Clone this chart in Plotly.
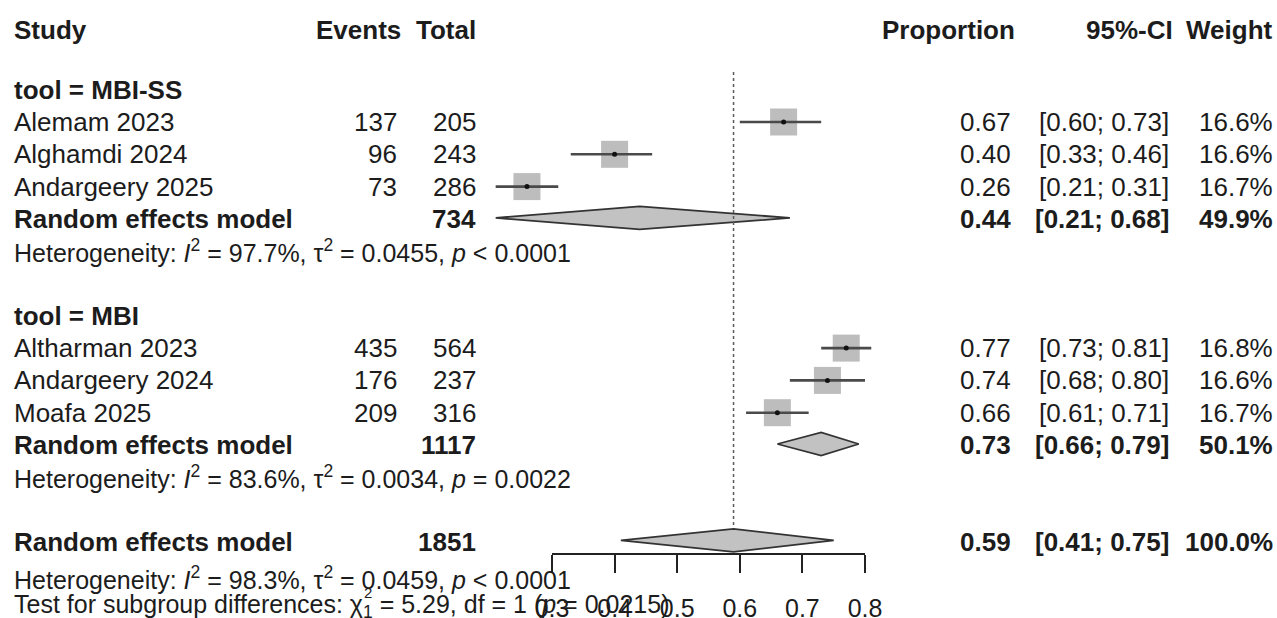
import plotly.graph_objects as go

# ---------------- data ----------------
groups = ["tool = MBI-SS", "tool = MBI"]
studies = [["Alemam 2023", "Alghamdi 2024", "Andargeery 2025"],
           ["Altharman 2023", "Andargeery 2024", "Moafa 2025"]]
events = [[137, 96, 73], [435, 176, 209]]
totals = [[205, 243, 286], [564, 237, 316]]
props = [[0.67, 0.40, 0.26], [0.77, 0.74, 0.66]]
ci_lo = [[0.60, 0.33, 0.21], [0.73, 0.68, 0.61]]
ci_hi = [[0.73, 0.46, 0.31], [0.81, 0.80, 0.71]]
weights = [["16.6%", "16.6%", "16.7%"], ["16.8%", "16.6%", "16.7%"]]

sub_total = [734, 1117]
sub_est = [0.44, 0.73]
sub_lo = [0.21, 0.66]
sub_hi = [0.68, 0.79]
sub_weight = ["49.9%", "50.1%"]
sub_het = [("97.7%", "0.0455", "&lt; 0.0001"), ("83.6%", "0.0034", "= 0.0022")]

all_total = 1851
all_est = 0.59
all_lo = 0.41
all_hi = 0.75
all_weight = "100.0%"
all_het = ("98.3%", "0.0459", "&lt; 0.0001")
test_chi2 = "5.29"
test_df = "1"
test_p = "0.0215"

tick_vals = [0.3, 0.4, 0.5, 0.6, 0.7, 0.8]
tick_text = ["0.3", "0.4", "0.5", "0.6", "0.7", "0.8"]

# ---------------- layout helpers ----------------
W, H = 1277, 618
PX03, PXU = 552.0, 626.0          # pixel of 0.3 and pixels per unit
def pv(px):
    return 0.3 + (px - PX03) / PXU

FONT = "Liberation Sans, Arial, Helvetica, sans-serif"
FS = 26
FS_H = 25
TXT = "#1c1c1c"

X_STUDY, X_EV, X_TOT = 12, 403, 478
X_PROP, X_CI, X_W = 1017, 1175, 1275

ROW0, STEP = 122.0, 32.3
def rowy(i):
    return ROW0 + STEP * i

ann = []
def txt(s, xpx, ypx, anchor="left", bold=False, size=FS):
    if bold:
        s = "<b>" + s + "</b>"
    ann.append(dict(text=s, x=xpx / W, xref="paper", y=ypx, yref="y",
                    xanchor=anchor, yanchor="middle", showarrow=False,
                    font=dict(family=FONT, size=size, color=TXT)))

def het_text(h):
    return ("Heterogeneity: <i>I</i><sup>2</sup> = %s, τ<sup>2</sup> = %s, <i>p</i> %s"
            % (h[0], h[1], h[2]))

fig = go.Figure()

# header
YH = 30
txt("Study", X_STUDY, YH, bold=True)
txt("Events", X_EV, YH, "right", True)
txt("Total", X_TOT, YH, "right", True)
txt("Proportion", X_PROP, YH, "right", True)
txt("95%-CI", X_CI, YH, "right", True)
txt("Weight", X_W, YH, "right", True)

sq_x, sq_y = [], []
ln_x, ln_y = [], []
DH = 11.5   # diamond half height (px)

def diamond(est, lo, hi, y):
    fig.add_trace(go.Scatter(x=[lo, est, hi, est, lo], y=[y, y - DH, y, y + DH, y],
                             mode="lines", fill="toself", fillcolor="#c2c2c2",
                             line=dict(color="#333333", width=1.8),
                             hoverinfo="skip", showlegend=False))

group_start = [-1, 6]
for g in range(2):
    base = group_start[g]
    txt(groups[g], X_STUDY, rowy(base), bold=True)
    for k in range(3):
        y = rowy(base + 1 + k)
        txt(studies[g][k], X_STUDY, y)
        txt(str(events[g][k]), X_EV - 4, y, "right")
        txt(str(totals[g][k]), X_TOT, y, "right")
        txt("%.2f" % props[g][k], X_PROP - 4, y, "right")
        txt("[%.2f; %.2f]" % (ci_lo[g][k], ci_hi[g][k]), X_CI - 4, y, "right")
        txt(weights[g][k], X_W, y, "right")
        sq_x.append(props[g][k]); sq_y.append(y)
        ln_x += [ci_lo[g][k], ci_hi[g][k], None]
        ln_y += [y, y, None]
    y = rowy(base + 4)
    txt("Random effects model", X_STUDY, y, bold=True)
    txt(str(sub_total[g]), X_TOT, y, "right", True)
    txt("%.2f" % sub_est[g], X_PROP - 4, y, "right", True)
    txt("[%.2f; %.2f]" % (sub_lo[g], sub_hi[g]), X_CI - 4, y, "right", True)
    txt(sub_weight[g], X_W, y, "right", True)
    diamond(sub_est[g], sub_lo[g], sub_hi[g], y - 1)
    txt(het_text(sub_het[g]), X_STUDY, rowy(base + 5), size=FS_H)

# overall
yo = rowy(13)
txt("Random effects model", X_STUDY, yo, bold=True)
txt(str(all_total), X_TOT, yo, "right", True)
txt("%.2f" % all_est, X_PROP - 4, yo, "right", True)
txt("[%.2f; %.2f]" % (all_lo, all_hi), X_CI - 4, yo, "right", True)
txt(all_weight, X_W, yo, "right", True)
diamond(all_est, all_lo, all_hi, yo - 1.5)
txt(het_text(all_het), X_STUDY, 578, size=FS_H)
txt("Test for subgroup differences: χ<sub>%s</sub> = %s, df = %s (<i>p</i> = %s)"
    % (test_df, test_chi2, test_df, test_p), X_STUDY, 606, size=FS_H)
txt("2", 362, 592, size=15)

# reference (dotted) line at overall estimate
fig.add_trace(go.Scatter(x=[all_est, all_est], y=[72, 528], mode="lines",
                         line=dict(color="#5a5a5a", width=1.5, dash="dot"),
                         hoverinfo="skip", showlegend=False))
# squares
fig.add_trace(go.Scatter(x=sq_x, y=sq_y, mode="markers",
                         marker=dict(symbol="square", size=27, color="#bdbdbd",
                                     line=dict(width=0)),
                         hoverinfo="skip", showlegend=False))
# CI lines
fig.add_trace(go.Scatter(x=ln_x, y=ln_y, mode="lines",
                         line=dict(color="#4a4a4a", width=2.6),
                         hoverinfo="skip", showlegend=False))
# point estimates
fig.add_trace(go.Scatter(x=sq_x, y=sq_y, mode="markers",
                         marker=dict(symbol="circle", size=5, color="#111111"),
                         hoverinfo="skip", showlegend=False))
# invisible trace to carry the bottom axis
fig.add_trace(go.Scatter(x=[tick_vals[0], tick_vals[-1]], y=[600, 600], xaxis="x2", yaxis="y",
                         mode="markers", marker=dict(opacity=0), hoverinfo="skip",
                         showlegend=False))

fig.update_layout(
    width=W, height=H, margin=dict(l=0, r=0, t=0, b=0, autoexpand=False),
    paper_bgcolor="white", plot_bgcolor="rgba(0,0,0,0)",
    showlegend=False, annotations=ann,
    xaxis=dict(domain=[0, 1], range=[pv(0), pv(W)], visible=False, fixedrange=True),
    yaxis=dict(domain=[0, 1], range=[H, 0], visible=False, fixedrange=True),
    xaxis2=dict(domain=[PX03 / W, (PX03 + 0.5 * PXU) / W], range=[0.3, 0.8],
                anchor="free", position=1 - 554 / H,
                showline=True, linecolor="#222222", linewidth=1.5,
                ticks="outside", ticklen=18, tickwidth=1.5, tickcolor="#222222",
                tickvals=tick_vals, ticktext=tick_text,
                tickfont=dict(family=FONT, size=FS_H, color=TXT),
                ticklabelstandoff=14,
                showgrid=False, zeroline=False, fixedrange=True),
)

fig.write_html("out.html")
